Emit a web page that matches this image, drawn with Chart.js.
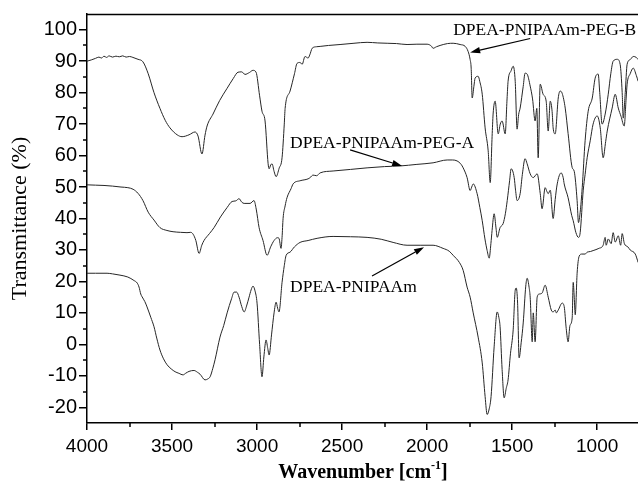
<!DOCTYPE html>
<html>
<head>
<meta charset="utf-8">
<script src="https://cdn.jsdelivr.net/npm/chart.js@4.4.1/dist/chart.umd.min.js"></script>
<style>
html,body{margin:0;padding:0;background:#fff;}
#wrap{width:638px;height:486px;}
</style>
</head>
<body>
<div id="wrap"><canvas id="c" width="638" height="486"></canvas></div>
<script>
// ---------- DATA ----------
const xTicks = [4000, 3500, 3000, 2500, 2000, 1500, 1000];
const xMinorTicks = [3750, 3250, 2750, 2250, 1750, 1250];
const yTicks = [-20, -10, 0, 10, 20, 30, 40, 50, 60, 70, 80, 90, 100];
const yMinorTicks = [-15, -5, 5, 15, 25, 35, 45, 55, 65, 75, 85, 95];

const seriesNames = ["DPEA-PNIPAAm-PEG-B", "DPEA-PNIPAAm-PEG-A", "DPEA-PNIPAAm"];

const wnB = [4000,3975,3950,3930,3915,3900,3885,3870,3850,3830,3810,3790,3770,3750,3730,3700,3671,3640,3606,3571,3540,3512,3470,3441,3400,3365,3347,3324,3306,3294,3259,3220,3176,3140,3112,3090,3071,3045,3024,3006,2985,2971,2953,2935,2929,2920,2912,2900,2888,2870,2853,2840,2835,2806,2780,2765,2747,2735,2718,2700,2690,2676,2650,2629,2580,2512,2430,2353,2290,2235,2180,2118,2060,2000,1975,1965,1945,1924,1880,1847,1806,1776,1759,1747,1741,1735,1725,1718,1700,1690,1676,1659,1641,1629,1618,1612,1600,1582,1570,1559,1541,1530,1524,1506,1494,1482,1471,1462,1453,1435,1424,1412,1394,1380,1365,1355,1347,1335,1318,1300,1288,1276,1265,1259,1247,1229,1218,1206,1188,1171,1147,1135,1118,1110,1100,1088,1071,1053,1029,1012,994,985,971,953,935,920,906,882,865,853,847,835,824,806,788,770,759];
const tB = [90.0,90.4,90.9,91.3,91.0,91.6,91.2,91.7,91.3,91.6,91.4,91.7,91.3,91.5,91.2,90.6,89.8,86.0,80.0,75.0,71.2,68.8,66.6,66.0,66.6,67.5,66.2,60.5,66.5,69.4,73.2,77.5,81.4,84.5,86.5,86.6,85.8,86.4,87.1,86.5,79.0,74.1,71.0,57.4,55.8,57.0,57.4,55.0,53.3,56.0,59.3,70.0,75.0,80.5,86.0,89.3,89.6,89.0,91.5,91.0,92.0,94.1,94.6,94.7,95.0,95.3,95.7,96.0,95.8,95.7,95.6,95.3,95.4,95.4,94.8,94.1,94.6,95.0,95.6,95.7,95.3,94.7,93.1,90.5,87.8,78.3,82.0,84.6,85.2,83.5,79.5,68.8,61.5,51.4,66.0,73.2,77.3,66.9,70.0,71.0,66.9,78.0,83.6,87.0,88.4,83.6,68.4,73.0,75.1,82.0,86.2,85.9,82.1,78.0,71.0,75.0,59.3,82.7,79.5,77.3,67.8,77.3,74.0,68.8,66.9,78.3,80.5,79.8,75.1,67.0,56.2,55.0,45.7,38.7,42.0,49.8,64.7,74.1,78.3,84.6,85.9,80.0,70.0,73.2,79.5,86.0,90.0,90.6,89.0,80.0,71.9,80.0,89.0,90.5,91.5,91.2,90.5];

const wnA = [4000,3950,3900,3850,3800,3760,3729,3700,3671,3640,3606,3571,3530,3494,3450,3412,3390,3376,3360,3341,3325,3312,3280,3253,3215,3176,3147,3125,3106,3090,3076,3041,3018,3005,2988,2965,2941,2920,2900,2880,2871,2859,2853,2847,2835,2824,2800,2788,2747,2700,2688,2671,2650,2629,2553,2450,2353,2250,2159,2060,1965,1882,1850,1824,1800,1788,1765,1747,1735,1729,1706,1690,1676,1660,1647,1635,1625,1618,1606,1595,1588,1571,1553,1540,1529,1515,1506,1488,1480,1471,1453,1440,1424,1412,1394,1376,1353,1335,1324,1306,1295,1288,1276,1259,1247,1235,1212,1200,1194,1171,1150,1141,1125,1110,1100,1082,1071,1059,1041,1024,1000,982,965,950,941,912,894,876,860,841,830,824,806,788,770,759];
const tA = [50.7,50.6,50.5,50.3,50.0,49.8,49.3,48.0,45.7,42.0,39.5,37.1,36.2,35.8,35.6,35.5,35.6,35.0,33.0,28.9,31.5,33.0,35.2,37.1,40.5,43.5,45.4,45.6,46.3,45.2,44.8,44.8,45.7,43.0,37.1,33.0,28.3,31.0,33.0,33.9,33.7,30.5,34.0,40.0,44.0,46.6,49.5,51.0,52.0,52.6,53.0,53.8,53.6,54.5,55.1,55.6,56.1,56.5,56.7,57.2,57.7,58.6,58.6,58.3,57.2,56.1,53.0,48.9,50.4,51.0,47.9,43.5,39.3,33.5,29.8,27.4,32.0,36.2,41.5,37.0,34.0,37.1,38.4,41.5,45.7,52.0,55.8,53.0,49.0,45.7,47.9,54.0,59.0,57.4,54.2,53.0,54.2,48.0,43.1,49.8,48.5,47.9,49.0,40.0,46.0,51.0,54.5,53.0,51.0,46.6,41.0,39.3,35.5,34.0,35.5,49.0,54.0,59.3,64.7,70.0,72.6,68.8,59.3,64.5,67.8,75.1,79.5,75.1,72.5,69.4,78.0,82.7,86.0,87.8,85.5,83.6];

const wnC = [4000,3950,3882,3850,3806,3760,3724,3705,3694,3684,3676,3660,3647,3625,3606,3590,3571,3550,3529,3505,3482,3460,3435,3420,3400,3371,3350,3335,3306,3290,3276,3260,3247,3218,3196,3176,3150,3135,3120,3106,3090,3076,3060,3047,3035,3024,3012,3000,2985,2971,2960,2947,2938,2929,2915,2900,2888,2879,2871,2853,2840,2829,2806,2780,2747,2700,2647,2553,2450,2353,2270,2200,2118,2041,1965,1906,1870,1847,1810,1788,1765,1747,1729,1700,1676,1659,1647,1635,1624,1606,1588,1578,1571,1559,1547,1535,1524,1510,1494,1482,1476,1468,1459,1447,1435,1420,1412,1400,1394,1382,1376,1365,1353,1340,1324,1306,1288,1270,1259,1247,1240,1229,1206,1194,1182,1171,1160,1147,1141,1135,1129,1118,1106,1090,1071,1059,1040,1024,990,965,953,947,935,918,906,894,876,862,853,840,820,806,776,759];
const tC = [22.6,22.6,22.6,22.4,22.0,21.4,20.3,19.5,18.2,16.0,15.1,13.6,11.9,8.6,5.6,2.0,-1.8,-4.6,-6.5,-7.8,-8.7,-9.2,-9.7,-9.2,-8.6,-8.3,-8.9,-9.5,-11.3,-11.0,-10.3,-7.6,-4.9,2.3,6.0,10.0,14.5,16.6,16.6,15.0,12.0,10.3,12.5,15.0,17.3,18.5,17.0,13.1,0.0,-10.3,-4.0,1.4,-1.0,-3.4,3.0,10.0,13.4,11.5,10.3,19.7,25.0,28.3,29.3,31.0,32.4,33.0,33.7,34.3,34.2,34.0,33.4,32.4,31.5,31.5,31.5,30.5,29.6,28.3,26.0,23.5,18.2,15.0,10.0,2.3,-5.9,-16.6,-22.3,-20.5,-16.6,-0.8,10.3,8.5,5.6,-8.0,-17.0,-14.0,-11.3,-3.0,4.6,17.2,17.9,13.1,-4.3,0.5,6.8,18.5,21.0,18.0,15.0,0.8,10.0,0.8,15.0,16.0,16.3,18.8,15.0,10.9,10.3,10.9,10.0,10.9,13.1,12.0,5.0,0.8,6.0,8.4,19.7,15.0,9.4,22.6,28.0,28.7,28.7,29.3,29.5,29.8,30.5,31.5,34.0,31.5,33.5,32.0,35.5,32.5,34.5,31.5,35.2,32.0,31.0,30.0,28.7,26.0];

// annotation anchors in data units [wavenumber, value]
const labelPos = [[1847, 98.2], [2806, 62.5], [2806, 16.6]];
const arrowFrom = [[1394, 97.2], [2453, 61.8], [2324, 21.7]];
const arrowTo = [[1747, 92.8], [2147, 56.7], [2018, 30.9]];

// ---------- CHART ----------
function pts(xs, ys) { return xs.map((x, i) => ({ x: x, y: ys[i] })); }
const lineStyle = { borderColor: '#262626', borderWidth: 1, pointRadius: 0, fill: false, cubicInterpolationMode: 'monotone' };

const extras = {
  id: 'extras',
  afterDraw(chart) {
    const ctx = chart.ctx, a = chart.chartArea;
    const xs = chart.scales.x, ys = chart.scales.y;
    ctx.save();
    ctx.strokeStyle = '#000';
    ctx.lineWidth = 1.5;
    // top frame line
    ctx.beginPath(); ctx.moveTo(a.left, a.top + 0.5); ctx.lineTo(a.right, a.top + 0.5); ctx.stroke();
    // minor ticks
    xMinorTicks.forEach(v => { const p = Math.round(xs.getPixelForValue(v)); ctx.beginPath(); ctx.moveTo(p, a.bottom); ctx.lineTo(p, a.bottom + 4); ctx.stroke(); });
    yMinorTicks.forEach(v => { const p = Math.round(ys.getPixelForValue(v)); ctx.beginPath(); ctx.moveTo(a.left, p); ctx.lineTo(a.left - 4, p); ctx.stroke(); });
    // axis titles
    ctx.fillStyle = '#000';
    ctx.save();
    ctx.translate(26, (a.top + a.bottom) / 2);
    ctx.rotate(-Math.PI / 2);
    ctx.font = '22px "Liberation Serif"';
    ctx.textAlign = 'center'; ctx.textBaseline = 'alphabetic';
    ctx.fillText('Transmittance (%)', 0, 0);
    ctx.restore();
    // x title with superscript
    ctx.font = 'bold 20px "Liberation Serif"';
    const t1 = 'Wavenumber [cm', t3 = ']';
    const supFont = 'bold 12px "Liberation Serif"';
    const w1 = ctx.measureText(t1).width, w3 = ctx.measureText(t3).width;
    ctx.font = supFont; const w2 = ctx.measureText('-1').width;
    const total = w1 + w2 + w3;
    let x0 = 363 - total / 2; const base = 478;
    ctx.textAlign = 'left'; ctx.textBaseline = 'alphabetic';
    ctx.font = 'bold 20px "Liberation Serif"'; ctx.fillText(t1, x0, base);
    ctx.font = supFont; ctx.fillText('-1', x0 + w1, base - 9);
    ctx.font = 'bold 20px "Liberation Serif"'; ctx.fillText(t3, x0 + w1 + w2, base);
    // series annotations
    ctx.font = '17.5px "Liberation Serif"';
    seriesNames.forEach((name, i) => {
      ctx.fillText(name, xs.getPixelForValue(labelPos[i][0]), ys.getPixelForValue(labelPos[i][1]));
      const x1 = xs.getPixelForValue(arrowFrom[i][0]), y1 = ys.getPixelForValue(arrowFrom[i][1]);
      const x2 = xs.getPixelForValue(arrowTo[i][0]), y2 = ys.getPixelForValue(arrowTo[i][1]);
      const ang = Math.atan2(y2 - y1, x2 - x1), L = 10, W = 3.2;
      const bx = x2 - L * Math.cos(ang), by = y2 - L * Math.sin(ang);
      ctx.lineWidth = 1.2;
      ctx.beginPath(); ctx.moveTo(x1, y1); ctx.lineTo(bx, by); ctx.stroke();
      ctx.beginPath();
      ctx.moveTo(x2, y2);
      ctx.lineTo(bx + W * Math.sin(ang), by - W * Math.cos(ang));
      ctx.lineTo(bx - W * Math.sin(ang), by + W * Math.cos(ang));
      ctx.closePath(); ctx.fill();
    });
    ctx.restore();
  }
};

new Chart(document.getElementById('c'), {
  type: 'line',
  data: {
    datasets: [
      Object.assign({ label: seriesNames[0], data: pts(wnB, tB) }, lineStyle),
      Object.assign({ label: seriesNames[1], data: pts(wnA, tA) }, lineStyle),
      Object.assign({ label: seriesNames[2], data: pts(wnC, tC) }, lineStyle)
    ]
  },
  options: {
    responsive: false,
    animation: false,
    devicePixelRatio: 1,
    layout: { padding: { top: 12, right: 0, left: 0, bottom: 0 } },
    scales: {
      x: {
        type: 'linear', reverse: true, min: 760, max: 4000,
        afterBuildTicks: s => { s.ticks = xTicks.map(v => ({ value: v })); },
        afterFit: s => { s.height = 63; },
        grid: { drawOnChartArea: false, drawTicks: true, tickLength: 7, color: '#000', lineWidth: 1.5 },
        border: { color: '#000', width: 1.5 },
        ticks: { font: { family: 'Liberation Sans', size: 19 }, color: '#000', maxRotation: 0, padding: 5, autoSkip: false, callback: v => String(v) }
      },
      y: {
        type: 'linear', min: -25, max: 105,
        afterBuildTicks: s => { s.ticks = yTicks.map(v => ({ value: v })); },
        afterFit: s => { s.width = 87; },
        grid: { drawOnChartArea: false, drawTicks: true, tickLength: 8, color: '#000', lineWidth: 1.5 },
        border: { color: '#000', width: 1.5 },
        ticks: { font: { family: 'Liberation Sans', size: 20 }, color: '#000', padding: 2, autoSkip: false, callback: v => String(v) }
      }
    },
    plugins: { legend: { display: false }, tooltip: { enabled: false }, title: { display: false } }
  },
  plugins: [extras]
});
</script>
</body>
</html>
